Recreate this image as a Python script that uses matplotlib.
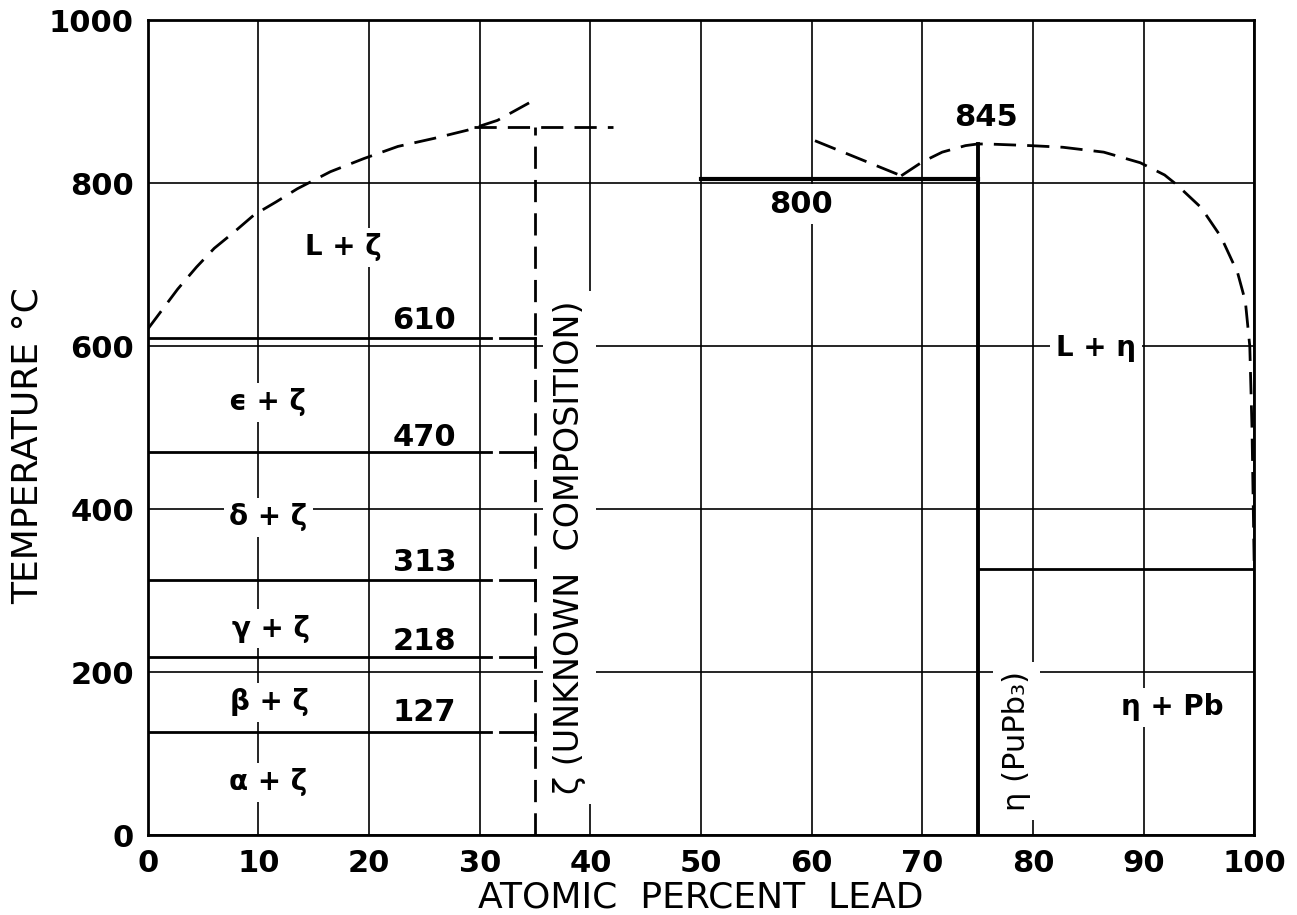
import matplotlib.pyplot as plt

# --- Axes ---
x_ticks = [0, 10, 20, 30, 40, 50, 60, 70, 80, 90, 100]
y_ticks = [0, 200, 400, 600, 800, 1000]

# --- Pu-rich side: zeta phase and invariant lines ---
zeta_x = 35
zeta_top = 869
invariant_temps = [610, 470, 313, 218, 127]
invariant_labels = ["610", "470", "313", "218", "127"]

# liquidus, Pu side
liq_left_x = [0, 2.7, 4.4, 6.0, 7.8, 9.6, 11.6, 13.5, 16.5, 19.5, 22.6, 25.9, 28.9, 31.6, 35.2]
liq_left_t = [621, 670, 697, 720, 740, 761, 777, 793, 814, 830, 845, 855, 865, 877, 904]

# --- Pb-rich side ---
peritectic_t = 805
peritectic_x = [50, 75]
eta_x = 75
eta_melt = 848
eutectic_t = 327

liq_mid_x = [60.3, 68.1]
liq_mid_t = [852, 809]

liq_right_x = [68.1, 70, 71.8, 73.9, 75, 75.9, 79.8, 82.7, 86.4, 89.7, 91.9, 93, 95.2, 97,
               98.5, 99.2, 99.6, 99.8, 100]
liq_right_t = [809, 826, 838, 846, 848, 848, 846, 844, 838, 825, 810, 798, 770, 734,
               690, 655, 600, 500, 330]

fig = plt.figure(figsize=(12.97, 9.15), dpi=100)
ax = fig.add_axes([0.114, 0.0874, 0.853, 0.8906])

ax.set_xlim(0, 100)
ax.set_ylim(0, 1000)
ax.set_xticks(x_ticks)
ax.set_yticks(y_ticks)
ax.tick_params(length=0, labelsize=22, pad=10)
for lbl in ax.get_xticklabels() + ax.get_yticklabels():
    lbl.set_fontweight("bold")
ax.grid(True, color="black", linewidth=1.2)
ax.set_axisbelow(True)
for s in ax.spines.values():
    s.set_linewidth(2)

dash = (8, 4)

# zeta: vertical dashed + top dashed
ax.plot([zeta_x, zeta_x], [0, zeta_top], color="black", lw=2, dashes=dash)
ax.plot([29.5, 42], [zeta_top, zeta_top], color="black", lw=2, dashes=dash)

# invariant lines on Pu side
for t in invariant_temps:
    ax.plot([0, zeta_x - 4], [t, t], color="black", lw=2)
    ax.plot([zeta_x - 3.2, zeta_x], [t, t], color="black", lw=2)
    ax.plot([zeta_x, zeta_x], [t - 10, t], color="black", lw=2)

ax.plot(liq_left_x, liq_left_t, color="black", lw=2, dashes=dash)
ax.plot(liq_mid_x, liq_mid_t, color="black", lw=2, dashes=dash)
ax.plot(liq_right_x, liq_right_t, color="black", lw=2, dashes=dash)

ax.plot(peritectic_x, [peritectic_t, peritectic_t], color="black", lw=3)
ax.plot([eta_x, eta_x], [0, eta_melt], color="black", lw=2.8)
ax.plot([eta_x, 100], [eutectic_t, eutectic_t], color="black", lw=2)

# --- Labels ---
box = dict(facecolor="white", edgecolor="none", pad=4)
num_kw = dict(fontsize=22, fontweight="bold", ha="center", va="center", zorder=5)
phase_kw = dict(fontsize=20, fontweight="bold", ha="center", va="center", bbox=box, zorder=5)

for t, lab, yy in zip(invariant_temps, invariant_labels, [632, 488, 335, 237, 150]):
    ax.text(25, yy, lab, **num_kw)

ax.text(17.7, 721, "L + ζ", **phase_kw)
ax.text(10.8, 531, "ϵ + ζ", **phase_kw)
ax.text(10.9, 390, "δ + ζ", **phase_kw)
ax.text(11.1, 253, "γ + ζ", **phase_kw)
ax.text(11.0, 163, "β + ζ", **phase_kw)
ax.text(10.9, 65, "α + ζ", **phase_kw)
ax.text(59, 774, "800", bbox=box, **num_kw)
ax.text(75.8, 881, "845", **num_kw)
ax.text(85.7, 598, "L + η", **phase_kw)
ax.text(92.6, 157, "η + Pb", **phase_kw)

ax.text(38.1, 353, "ζ (UNKNOWN  COMPOSITION)", fontsize=24, rotation=90,
        ha="center", va="center", zorder=5,
        bbox=dict(facecolor="white", edgecolor="none", boxstyle="square,pad=0.3"))
ax.text(78.5, 115, "η (PuPb₃)", fontsize=22, rotation=90,
        ha="center", va="center", zorder=5,
        bbox=dict(facecolor="white", edgecolor="none", boxstyle="square,pad=0.3"))

ax.set_xlabel("ATOMIC  PERCENT  LEAD", fontsize=26, labelpad=2)
ax.set_ylabel("TEMPERATURE °C", fontsize=26)
ax.yaxis.set_label_coords(-0.093, 0.478)

fig.savefig("out.png", dpi=100)
